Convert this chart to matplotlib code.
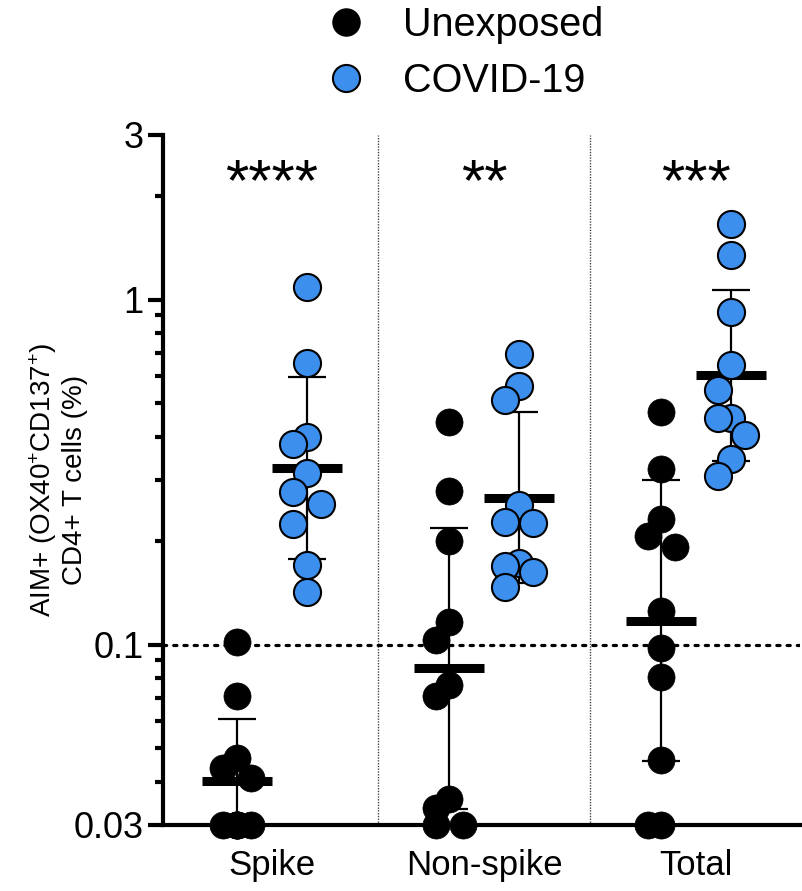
import numpy as np
import matplotlib
matplotlib.use("Agg")
import matplotlib.pyplot as plt
from matplotlib.lines import Line2D

plt.rcParams['font.family'] = ['Liberation Sans', 'DejaVu Sans']
plt.rcParams['mathtext.fontset'] = 'custom'
plt.rcParams['mathtext.rm'] = 'Liberation Sans'
plt.rcParams['mathtext.it'] = 'Liberation Sans:italic'
plt.rcParams['mathtext.bf'] = 'Liberation Sans:bold'

# ---------------- data ----------------
categories = ["Spike", "Non-spike", "Total"]
series_names = ["Unexposed", "COVID-19"]
significance = ["****", "**", "***"]

spike_unexposed = [0.102, 0.071, 0.047, 0.044, 0.041, 0.03, 0.03, 0.03, 0.03, 0.03, 0.03]
spike_covid = [1.09, 0.653, 0.401, 0.382, 0.314, 0.277, 0.256, 0.224, 0.170, 0.142]
nonspike_unexposed = [0.443, 0.279, 0.200, 0.1165, 0.103, 0.0763, 0.071, 0.0358, 0.0335, 0.03, 0.03]
nonspike_covid = [0.696, 0.562, 0.512, 0.254, 0.2269, 0.2256, 0.1724, 0.169, 0.1627, 0.1472]
total_unexposed = [0.4735, 0.3237, 0.231, 0.207, 0.192, 0.1251, 0.0976, 0.0804, 0.0463, 0.03, 0.03]
total_covid = [1.656, 1.351, 0.918, 0.645, 0.547, 0.453, 0.453, 0.406, 0.344, 0.308]

unexposed = [spike_unexposed, nonspike_unexposed, total_unexposed]
covid = [spike_covid, nonspike_covid, total_covid]

yticks = [0.03, 0.1, 1, 3]
ytick_labels = ["0.03", "0.1", "1", "3"]
threshold = 0.1

# ---------------- style ----------------
colors = ["black", "#3d8fee"]
offset = 0.165
marker_pt = 19.5

fig = plt.figure(figsize=(8.03, 8.91), dpi=100)
ax = fig.add_axes([163 / 803, 66 / 891, 637 / 803, 690 / 891])
ax.set_yscale('log')
ax.set_ylim(0.03, 3)
ax.set_xlim(-0.514, 2.49)

for s in ['top', 'right']:
    ax.spines[s].set_visible(False)
for s in ['left', 'bottom']:
    ax.spines[s].set_linewidth(3)

ax.set_yticks(yticks)
ax.set_yticklabels(ytick_labels)
ax.yaxis.set_minor_locator(matplotlib.ticker.LogLocator(base=10, subs=np.arange(2, 10)))
ax.yaxis.set_minor_formatter(matplotlib.ticker.NullFormatter())
ax.tick_params(axis='y', which='major', length=11, width=3, labelsize=26, pad=3)
ax.tick_params(axis='y', which='minor', length=6, width=3)
ax.set_xticks(range(len(categories)))
ax.set_xticklabels(categories)
ax.tick_params(axis='x', length=0, labelsize=25, pad=17)

ax.set_ylabel('AIM+ (OX40$^{+}$CD137$^{+}$)\nCD4+ T cells (%)', fontsize=20, linespacing=1.15)
ax.yaxis.set_label_coords(-0.117, 0.5)

# dividers and threshold
for xd in [0.5, 1.5]:
    ax.axvline(xd, color='#444444', lw=1.0, ls=(0, (1, 1)), zorder=1)
ax.axhline(threshold, color='black', lw=2.3, ls=(0, (1.0, 2.2)), dash_capstyle='round', zorder=1)

fig.canvas.draw()
px_per_unit = ax.transData.transform((1, 1))[0] - ax.transData.transform((0, 1))[0]
D = marker_pt * 100 / 72.0


def swarm(vals, xc):
    vals = np.asarray(vals, float)
    disp = ax.transData.transform(np.column_stack([np.full(len(vals), xc), vals]))
    ys = disp[:, 1]
    step = D * 0.5
    maxo = D * 0.85
    cands = [0.0]
    k = 1
    while k * step <= maxo + 1e-6:
        cands += [-k * step, k * step]
        k += 1
    thr = D * 0.92
    order = np.argsort(-vals, kind='stable')
    placed = []
    offs = np.zeros(len(vals))
    for i in order:
        chosen, bestd, bestc = None, -1, 0.0
        for c in cands:
            if placed:
                d = min(np.hypot(c - px, ys[i] - py) for px, py in placed)
            else:
                d = np.inf
            if d >= thr:
                chosen = c
                break
            if d > bestd + 1e-9:
                bestd, bestc = d, c
        if chosen is None:
            chosen = bestc
        offs[i] = chosen
        placed.append((chosen, ys[i]))
    return xc + offs / px_per_unit


def geo_stats(vals):
    lv = np.log10(vals)
    m = lv.mean()
    sd = lv.std(ddof=1)
    return 10 ** m, 10 ** (m - sd), 10 ** (m + sd)


for gi in range(len(categories)):
    for si, data in enumerate([unexposed[gi], covid[gi]]):
        xc = gi + (-offset if si == 0 else offset)
        gm, lo, hi = geo_stats(data)
        ax.errorbar([xc], [gm], yerr=[[gm - lo], [hi - gm]], fmt='none', ecolor='black',
                    elinewidth=1.6, capsize=13.5, capthick=1.6, zorder=3)
        ax.hlines(gm, xc - 0.165, xc + 0.165, color='black', lw=6.5, zorder=3)
        xs = swarm(data, xc)
        if si == 0:
            ax.scatter(xs, data, s=marker_pt ** 2, color='black', edgecolor='black', lw=0.5,
                       zorder=4, clip_on=False)
        else:
            ax.scatter(xs, data, s=marker_pt ** 2, color=colors[1], edgecolor='black', lw=1.5,
                       zorder=4, clip_on=False)
    ax.text(gi, 2.16, significance[gi], ha='center', va='center', fontsize=43)

handles = [Line2D([], [], marker='o', ls='none', markersize=marker_pt, markerfacecolor='black',
                  markeredgecolor='black'),
           Line2D([], [], marker='o', ls='none', markersize=marker_pt, markerfacecolor=colors[1],
                  markeredgecolor='black', markeredgewidth=1.5)]
fig.legend(handles, series_names, loc='upper left', bbox_to_anchor=(322 / 803, 1.0 - 6 / 891),
           frameon=False, fontsize=28.5, handlelength=1.2, handletextpad=0.85, labelspacing=0.45,
           borderaxespad=0.0, borderpad=0.0)

fig.savefig('out.png', dpi=100)
